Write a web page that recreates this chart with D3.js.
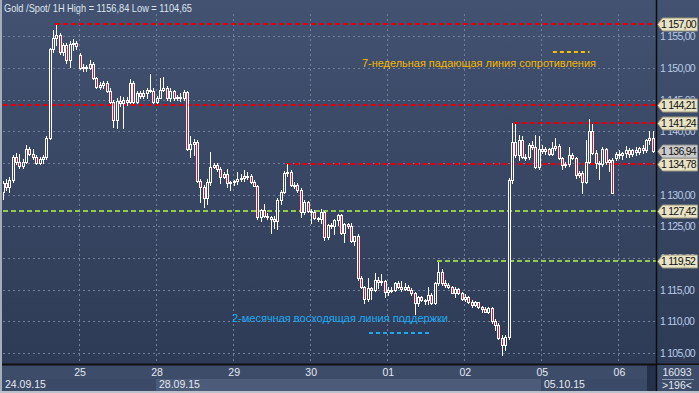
<!DOCTYPE html>
<html><head><meta charset="utf-8">
<script src="https://cdn.jsdelivr.net/npm/d3@7/dist/d3.min.js"></script>
<style>html,body{margin:0;padding:0;background:#2d3a54;overflow:hidden}svg{display:block}</style>
</head><body><svg id="c" width="699" height="393"></svg>
<script>
// ---------- data ----------
const title = "Gold /Spot/ 1H High = 1156,84 Low = 1104,65";
const dayLabels = ["25","28","29","30","01","02","05","06"];
const dayStarts = [23,46,69,92,115,138,161,184];
const weekLabels = ["24.09.15","28.09.15","05.10.15"];
const weekStarts = [0,46,161];
const priceTicks = [1105,1110,1115,1120,1125,1130,1135,1140,1145,1150,1155];
// hourly candles [open, high, low, close]
const d24 = [[1130.5,1132.2,1129.3,1131.8],[1131.8,1132.5,1130.8,1131.2],[1131.2,1132.8,1130.5,1132.3],[1132.3,1136.3,1132,1136],[1136,1136.6,1134.8,1135.2],[1135.2,1136.4,1134.2,1134.6],[1134.6,1135.6,1134.2,1135.2],[1135.2,1137.8,1135,1137.2],[1137.2,1137.6,1136.2,1136.5],[1136.5,1137.2,1135.6,1136],[1136,1136.3,1134.8,1135],[1135,1135.9,1134.8,1135.6],[1135.6,1136.2,1135,1136],[1136,1139.3,1135.7,1139],[1139,1153.2,1138.8,1153],[1153,1156,1152.5,1154.8],[1154.8,1156.84,1153.6,1155.2],[1155.2,1155.6,1152.2,1152.5],[1152.5,1154,1152,1153.6],[1153.6,1154,1150.8,1151.3],[1151.3,1154.2,1150.2,1153.8],[1153.8,1154.6,1152.8,1154],[1154,1154.2,1153,1153.5]];
const d25 = [[1152,1152.3,1149.8,1150],[1150,1150.6,1149.6,1150.2],[1150.2,1150.5,1149.5,1150],[1150,1151.2,1149.8,1150.6],[1150.6,1150.9,1148.2,1148.4],[1148.4,1148.6,1146.8,1147],[1147,1147.8,1146.7,1147.3],[1147.3,1148,1146.8,1147.6],[1147.6,1148,1146.2,1146.4],[1146.4,1146.8,1144.4,1144.6],[1144.6,1145,1140.7,1141.8],[1141.8,1145.2,1140.6,1144.8],[1144.8,1145.6,1144,1144.4],[1144.4,1145.4,1140.6,1145],[1145,1145.4,1144.2,1144.6],[1144.6,1148.2,1144.4,1147.6],[1147.6,1148,1144.4,1144.6],[1144.6,1146.4,1144.4,1146],[1146,1146.3,1145.3,1145.6],[1145.6,1146.6,1145.2,1146],[1146,1146.9,1145.2,1146.6],[1146.6,1149,1146.2,1146.4],[1146.4,1146.8,1144.4,1144.6]];
const d28 = [[1144.6,1145.6,1144.4,1145.3],[1145.3,1148.4,1145.2,1146.6],[1146.6,1148.6,1146.4,1146.9],[1146.9,1147.1,1144.9,1145.2],[1145.2,1146.8,1144.8,1146.4],[1146.4,1146.6,1145,1145.2],[1145.2,1145.8,1145,1145.5],[1145.5,1146.1,1144.8,1145.3],[1145.3,1146.5,1145,1146.2],[1146.2,1146.4,1137,1137.2],[1137.2,1139.2,1136,1138],[1138,1138.8,1136.3,1138.3],[1138.3,1138.6,1132,1132.2],[1132.2,1132.5,1128.8,1131.2],[1131.2,1131.6,1128,1129.5],[1129.5,1132.4,1128.5,1132],[1132,1136.8,1131.6,1134.4],[1134.4,1135,1134.2,1134.7],[1134.7,1135,1133.8,1134],[1134,1134.3,1131.8,1132.8],[1132.8,1133.6,1132.6,1133.2],[1133.2,1134.1,1131.2,1131.8],[1131.8,1132.2,1130.8,1132]];
const d29 = [[1132,1132.3,1131.6,1132.1],[1132.1,1133.6,1131.7,1132.5],[1132.5,1133.2,1132.2,1132.6],[1132.6,1133.9,1132.2,1132.9],[1132.9,1133.6,1132.4,1133],[1133,1133.2,1131.9,1132],[1132,1132.3,1131.3,1131.4],[1131.4,1131.6,1126.2,1126.4],[1126.4,1127.8,1125.8,1127.6],[1127.6,1128.6,1126.4,1126.7],[1126.7,1127.1,1126.2,1126.4],[1126.4,1126.6,1124,1126.2],[1126.2,1126.6,1124.8,1125.9],[1125.9,1129.4,1124.6,1129.2],[1129.2,1130.8,1128.6,1130.4],[1130.4,1133.8,1130.2,1133.4],[1133.4,1134.78,1133,1133.6],[1133.6,1133.9,1131.3,1131.5],[1131.5,1132,1131.1,1131.6],[1131.6,1131.8,1130.5,1130.7],[1130.7,1131,1126.4,1127.3],[1127.3,1129.1,1127,1128.8],[1128.8,1129,1127.2,1127.4]];
const d30 = [[1127.4,1127.8,1125.5,1127.2],[1127.2,1127.6,1126.1,1126.3],[1126.3,1126.5,1125.8,1126.1],[1126.1,1127.8,1125.6,1127.3],[1127.3,1127.5,1122.8,1123.3],[1123.3,1125.4,1123,1125.2],[1125.2,1125.5,1124.7,1125],[1125,1126.1,1123.8,1126],[1126,1127,1125.2,1126.8],[1126.8,1127,1123.8,1124],[1124,1125.6,1122.5,1125.3],[1125.3,1125.6,1124.8,1125.1],[1125.1,1125.5,1122.5,1122.7],[1122.7,1123.5,1122,1123.4],[1123.4,1123.8,1116.6,1116.8],[1116.8,1117.2,1115.2,1115.4],[1115.4,1115.6,1112.9,1113.5],[1113.5,1116.8,1113.2,1115.2],[1115.2,1115.4,1113.6,1115],[1115,1117.6,1114.8,1116.5],[1116.5,1117,1115.2,1116.2],[1116.2,1117.4,1115.8,1116.3],[1116.3,1116.5,1113.8,1114.6]];
const d01 = [[1114.6,1115.5,1114.2,1115],[1115,1115.4,1114.6,1114.9],[1114.9,1116.2,1114.8,1116],[1116,1116.4,1115.2,1115.4],[1115.4,1116.3,1114.8,1115.1],[1115.1,1116,1114.9,1115.5],[1115.5,1115.7,1114.9,1115],[1115,1115.2,1114.2,1114.4],[1114.4,1114.6,1111.1,1112.9],[1112.9,1114,1112.5,1113.8],[1113.8,1114,1113.2,1113.4],[1113.4,1113.6,1112.8,1113.3],[1113.3,1115.4,1112.8,1114.1],[1114.1,1114.4,1112.7,1112.9],[1112.9,1116.2,1112.7,1116],[1116,1119.3,1115.8,1117.8],[1117.8,1118.2,1115.8,1116],[1116,1116.5,1115.4,1115.7],[1115.7,1116.1,1115.2,1115.4],[1115.4,1115.6,1114.4,1114.5],[1114.5,1115.4,1113.8,1115.1],[1115.1,1115.3,1114.3,1114.4],[1114.4,1114.6,1113.3,1113.5]];
const d02 = [[1113.5,1114.3,1113.2,1113.8],[1113.8,1114,1112.9,1113.1],[1113.1,1113.4,1112.3,1112.6],[1112.6,1113.2,1112.4,1113],[1113,1113.1,1112.1,1112.3],[1112.3,1112.5,1111.5,1112],[1112,1112.3,1111.4,1111.5],[1111.5,1112.2,1111.3,1112.1],[1112.1,1112.3,1109.8,1110],[1110,1110.4,1108.6,1109.5],[1109.5,1109.7,1107.2,1107.4],[1107.4,1107.9,1104.65,1106.3],[1106.3,1107.8,1105.5,1107.6],[1107.6,1132.6,1107.2,1132.3],[1132.3,1141.3,1131.8,1138.3],[1138.3,1141.1,1136,1136.3],[1136.3,1139.4,1135.5,1138.6],[1138.6,1139.2,1135.8,1136],[1136,1136.4,1135.4,1135.9],[1135.9,1138.2,1135.6,1137.8],[1137.8,1138.4,1137.2,1137.6],[1137.6,1139.4,1134.2,1134.4],[1134.4,1139.2,1134,1137.2]];
const d05 = [[1137.2,1137.8,1136.6,1136.9],[1136.9,1137.6,1136.4,1137.2],[1137.2,1137.4,1136.2,1136.5],[1136.5,1138.3,1136.3,1137.4],[1137.4,1138.9,1137,1137.7],[1137.7,1138,1135.6,1135.8],[1135.8,1136,1134,1134.7],[1134.7,1135.2,1134.3,1134.9],[1134.9,1137.5,1134.6,1136.3],[1136.3,1136.6,1135.6,1135.8],[1135.8,1136,1132.6,1133.1],[1133.1,1133.8,1132.8,1133.5],[1133.5,1133.8,1130.3,1132],[1132,1138.6,1131.8,1135.2],[1135.2,1142,1135,1140],[1140,1141.2,1136.4,1136.6],[1136.6,1137,1134.2,1135],[1135,1135.3,1132.5,1134.8],[1134.8,1137.6,1134.5,1137.2],[1137.2,1137.4,1134.9,1135.2],[1135.2,1135.6,1133.8,1135.5],[1135.5,1135.8,1130.2,1130.3],[1135.8,1136.8,1135.4,1136.5]];
const d06 = [[1136.5,1137,1135.8,1136.2],[1136.2,1136.8,1135.6,1136.6],[1136.6,1137.7,1136,1137],[1137,1137.4,1136,1136.4],[1136.4,1137.2,1136.1,1137],[1137,1137.5,1136.3,1136.7],[1136.7,1137.6,1136.4,1137.3],[1137.3,1137.8,1136.6,1137.1],[1137.1,1138.8,1136.8,1138.6],[1138.6,1140,1138,1139],[1139,1140,1136.7,1136.94]];
// horizontal levels: value, start candle index, kind
const levelValues = [1157.00, 1144.21, 1141.24, 1134.78, 1127.42, 1119.52];
const levelStarts = [16, 0, 153, 85, 0, 130];
const levelKinds  = ["res","res","res","res","sup","sup"];
const lastPrice = 1136.94;
const noteRes = "7-недельная падающая линия  сопротивления";
const noteSup = "2-месячная восходящая линия поддержки";
const counterTop = "16093", counterBottom = ">196<";

// ---------- build ----------
const candles = [].concat(d24,d25,d28,d29,d30,d01,d02,d05,d06).map(([o,h,l,c],i)=>({i,o,h,l,c}));
const N = candles.length;
const W = 699, H = 393, plotL = 3, plotR = 656, plotB = 364;
const FONT = "Liberation Sans, Arial, sans-serif";
const svg = d3.select("#c");
const fmt = d3.formatLocale({decimal:",",thousands:" ",grouping:[3],currency:["",""]}).format(",.2f");

const x = d3.scaleLinear().domain([0, N]).range([1.5, 1.5 + N*3.35]);
const y = d3.scaleLinear().domain([1105, 1150]).range([353, 68]);

const defs = svg.append("defs");
const g = defs.append("linearGradient").attr("id","bg").attr("gradientUnits","userSpaceOnUse")
  .attr("x1",0).attr("y1",0).attr("x2",0).attr("y2",H);
g.append("stop").attr("offset",0).attr("stop-color","#425270");
g.append("stop").attr("offset",1).attr("stop-color","#2c3954");
defs.append("clipPath").attr("id","plot").append("rect").attr("x",plotL).attr("y",0).attr("width",plotR-plotL).attr("height",plotB);

svg.append("rect").attr("width",W).attr("height",H).attr("fill","url(#bg)");

// grid
const grid = svg.append("g").attr("clip-path","url(#plot)");
grid.selectAll("line.h").data(priceTicks).join("line")
  .attr("x1",plotL).attr("x2",plotR).attr("y1",d=>Math.round(y(d))+0.5).attr("y2",d=>Math.round(y(d))+0.5)
  .attr("stroke","#6f7f9b").attr("stroke-dasharray","2,3");
grid.selectAll("line.v").data(dayStarts).join("line")
  .attr("x1",d=>Math.round(x(d))+0.5).attr("x2",d=>Math.round(x(d))+0.5).attr("y1",14).attr("y2",plotB)
  .attr("stroke","#6f7f9b").attr("stroke-dasharray","2,3");

// levels
const levels = levelValues.map((v,k)=>({v, s:levelStarts[k], kind:levelKinds[k]}));
const lv = svg.append("g").attr("clip-path","url(#plot)");
lv.selectAll("line").data(levels).join("line")
  .attr("x1",d=>Math.max(plotL, x(d.s))).attr("x2",plotR)
  .attr("y1",d=>Math.round(y(d.v))).attr("y2",d=>Math.round(y(d.v)))
  .attr("stroke",d=>d.kind==="res"?"#e3000f":"#93c94e")
  .attr("stroke-width",2).attr("stroke-dasharray","5,3");

// candles
const cg = svg.append("g").attr("clip-path","url(#plot)");
const px = d => Math.floor(x(d.i+0.5));
cg.selectAll("line").data(candles).join("line")
  .attr("x1",d=>px(d)+0.5).attr("x2",d=>px(d)+0.5)
  .attr("y1",d=>Math.round(y(d.h))).attr("y2",d=>Math.round(y(d.l))+1)
  .attr("stroke","#ffffff").attr("stroke-width",1);
cg.selectAll("rect").data(candles).join("rect")
  .attr("x",d=>px(d)-0.5).attr("width",2)
  .attr("y",d=>Math.round(y(Math.max(d.o,d.c)))+0.5)
  .attr("height",d=>Math.max(1, Math.round(y(Math.min(d.o,d.c))) - Math.round(y(Math.max(d.o,d.c)))))
  .attr("fill",d=>d.c<d.o?"#e3102c":"url(#bg)")
  .attr("stroke","#ffffff").attr("stroke-width",1);

// annotations
svg.append("text").attr("x",x(107.6)).attr("y",y(1150.8)).attr("dy","0.35em")
  .attr("fill","#f5b800").attr("font-family",FONT).attr("font-size",11.5)
  .attr("textLength",234).attr("lengthAdjust","spacingAndGlyphs").text(noteRes);
svg.append("line").attr("x1",x(164.6)).attr("x2",x(175.5)).attr("y1",Math.round(y(1152.5))).attr("y2",Math.round(y(1152.5)))
  .attr("stroke","#f5c000").attr("stroke-width",2).attr("stroke-dasharray","4,3");
svg.append("text").attr("x",x(68.8)).attr("y",y(1110.5)).attr("dy","0.35em")
  .attr("fill","#1fa8ee").attr("font-family",FONT).attr("font-size",11.5)
  .attr("textLength",216).attr("lengthAdjust","spacingAndGlyphs").text(noteSup);
svg.append("line").attr("x1",x(109.7)).attr("x2",x(128.2)).attr("y1",Math.round(y(1108.1))).attr("y2",Math.round(y(1108.1)))
  .attr("stroke","#1fa8ee").attr("stroke-width",2).attr("stroke-dasharray","4,3");

// title
svg.append("text").attr("x",4).attr("y",12).attr("fill","#dfe6f0")
  .attr("font-family",FONT).attr("font-size",11)
  .attr("textLength",188).attr("lengthAdjust","spacingAndGlyphs").text(title);

// right axis
const ra = svg.append("g").attr("transform",`translate(${plotR},0)`)
  .call(d3.axisRight(y).tickValues(priceTicks).tickFormat(fmt).tickSize(0).tickPadding(4));
ra.select(".domain").remove();
ra.selectAll("text").attr("fill","#b9cbe6").attr("font-family",FONT)
  .attr("font-size",10.5).attr("letter-spacing","-0.75");

// price tags
const tags = levels.map(d=>({v:d.v, cur:false})).concat([{v:lastPrice, cur:true}]);
const tg = svg.append("g");
tg.selectAll("path").data(tags).join("path")
  .attr("d",d=>{const c=Math.round(y(d.v))+0.5;return `M${plotR+1.5},${c} L${plotR+6.5},${c-6.5} L697.5,${c-6.5} L697.5,${c+6.5} L${plotR+6.5},${c+6.5} Z`;})
  .attr("fill",d=>d.cur?"#c9c9c9":"#e8e3c4").attr("stroke",d=>d.cur?"#8e8e8e":"#9b967c").attr("stroke-width",1);
tg.selectAll("text").data(tags).join("text")
  .attr("x",661).attr("y",d=>Math.round(y(d.v))+0.5).attr("dy","0.36em")
  .attr("fill","#111").attr("font-family",FONT).attr("font-size",10.5)
  .attr("letter-spacing","-0.75").text(d=>fmt(d.v));

// bottom axis area
svg.append("rect").attr("x",0).attr("y",plotB).attr("width",plotR).attr("height",H-plotB).attr("fill","#3d4c68");
const weeks = weekStarts.map((s,k)=>({s, e: k+1<weekStarts.length?weekStarts[k+1]:null, label:weekLabels[k], k}));
svg.selectAll("rect.wk").data(weeks).join("rect").attr("class","wk")
  .attr("x",d=>d.s===0?2:Math.round(x(d.s))).attr("y",379)
  .attr("width",d=>(d.e===null?647:Math.round(x(d.e)))-(d.s===0?2:Math.round(x(d.s))))
  .attr("height",12).attr("fill",d=>d.k%2?"#4c5b77":"#3b4a66");
svg.append("rect").attr("x",647).attr("y",plotB+1).attr("width",9).attr("height",H-plotB-3).attr("fill","#25314a");
svg.append("line").attr("x1",0).attr("x2",W).attr("y1",plotB+0.5).attr("y2",plotB+0.5).attr("stroke","#111").attr("stroke-width",2);
const ba = svg.append("g").attr("transform",`translate(1,${plotB+2})`)
  .call(d3.axisBottom(x).tickValues(dayStarts).tickFormat((d,k)=>dayLabels[k]).tickSize(0).tickPadding(3));
ba.select(".domain").remove();
ba.selectAll("text").attr("fill","#e4e9f2").attr("font-family",FONT).attr("font-size",10.5);
svg.selectAll("text.wk").data(weeks).join("text").attr("class","wk")
  .attr("x",d=>(d.s===0?5:Math.round(x(d.s))+3)).attr("y",388)
  .attr("fill","#e4e9f2").attr("font-family",FONT).attr("font-size",10.5)
  .text(d=>d.label);

// right-bottom counter
svg.append("rect").attr("x",plotR).attr("y",plotB+1).attr("width",W-plotR).attr("height",H-plotB-1).attr("fill","#3d4c68");
svg.append("line").attr("x1",662).attr("x2",694).attr("y1",379.5).attr("y2",379.5).attr("stroke","#8d9ab0");
svg.append("text").attr("x",677).attr("y",376).attr("text-anchor","middle").attr("fill","#e4e9f2")
  .attr("font-family",FONT).attr("font-size",10.5).text(counterTop);
svg.append("text").attr("x",677).attr("y",389).attr("text-anchor","middle").attr("fill","#e4e9f2")
  .attr("font-family",FONT).attr("font-size",10.5).text(counterBottom);

// frame lines
svg.append("line").attr("x1",plotR+0.5).attr("x2",plotR+0.5).attr("y1",0).attr("y2",H).attr("stroke","#0d0d10").attr("stroke-width",1.5);
svg.append("rect").attr("x",0).attr("y",0).attr("width",2).attr("height",H).attr("fill","#a3adbb");
svg.append("rect").attr("x",0).attr("y",H-2).attr("width",W).attr("height",2).attr("fill","#b9c1cc");
</script></body></html>
